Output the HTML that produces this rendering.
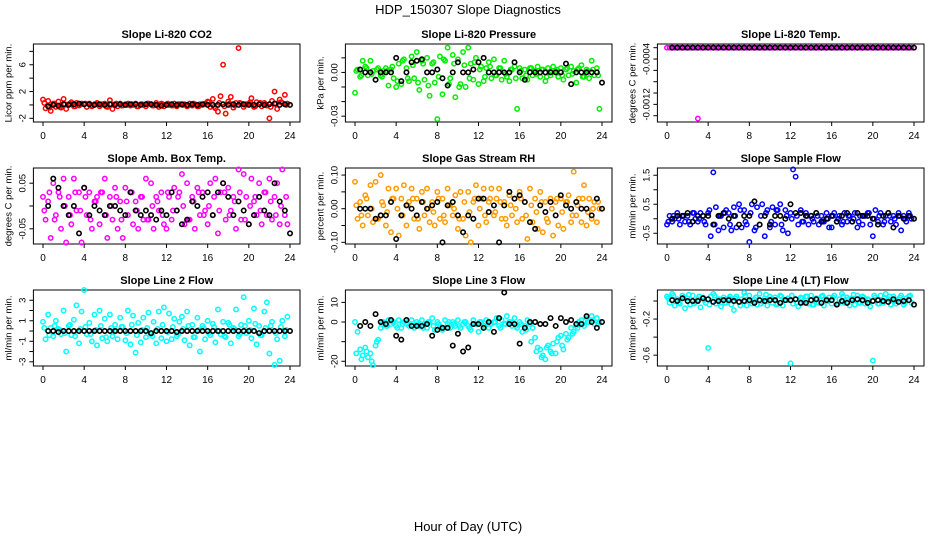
<!DOCTYPE html>
<html><head><meta charset="utf-8"><style>
html,body{margin:0;padding:0;background:#fff;}
svg{display:block;font-family:"Liberation Sans",sans-serif;}
</style></head>
<body>
<svg id="chart" width="936" height="540" viewBox="0 0 936 540">
<rect x="0" y="0" width="936" height="540" fill="#fff"/>
<text x="468" y="14" text-anchor="middle" font-size="13">HDP_150307  Slope Diagnostics</text>
<text x="468" y="531" text-anchor="middle" font-size="13">Hour of Day (UTC)</text>
</svg>
<script>
// ---- data ----
const p1Color=[0.8,-0.5,0.6,-0.9,0.2,-0.3,0.5,-0.4, 0.9,-0.6,0.1,0.4,-0.2,0.3,-0.1,0.2, 0.1,-0.3,0.2,-0.2,0.1,0.3,-0.2,0.1, 0.2,-0.3,0.7,-0.6,0.1,-0.2,0.2,-0.1, 0.1,0.2,-0.1,0.0,0.2,-0.2,0.1,0.0, -0.2,0.2,0.1,-0.1,0.3,-0.3,0.2,-0.2, 0.1,0.0,-0.1,0.2,-0.2,0.1,0.0,0.1, -0.2,0.2,-0.1,0.1,-0.2,0.1,0.0,0.2, 0.5,-0.3,0.9,-0.5,-1.0,1.3,6.0,-1.3, 0.5,1.2,-0.4,0.3,8.5,0.2,-0.3,0.1, 0.2,1.0,-0.3,0.4,0.1,-0.2,0.3,-0.1, -2.0,0.6,2.0,-0.6,0.8,0.3,1.5,0.2];
const p1Core=[0.3,-0.4,0.2,-0.3,0.1,0.2,-0.2,0.1,0.2,-0.1,0.1,0.0, -0.2,0.1,0.2,-0.1,0.0,0.1,-0.2,0.1,0.2,-0.1,0.0,0.1, 0.2,-0.1,0.1,0.0,-0.1,0.2,-0.2,0.1,0.4,-0.3,0.3,-0.2, 0.2,-0.1,0.3,0.0,0.4,-0.2,0.3,0.1,-0.3,0.2,0.4,0.0];
const p1Black=[-0.2,0.0,-0.1,0.1,0.0,0.1,0.2,0.1,0.1,0.0,0.1,0.0, 0.1,0.0,0.1,0.0,0.1,0.1,0.0,0.1,0.1,0.0,-0.1,0.0, 0.1,0.0,0.1,0.0,0.1,0.0,0.1,0.0,0.0,0.0,0.1,0.0, 0.1,0.0,0.1,0.0,0.0,0.1,0.0,0.1,0.2,0.0,0.1,0.0];
const p2Color=[-0.014,0.002,-0.003,0.008,0.004,-0.002,0.008,0.001, -0.005,0.003,-0.002,0.001,0.003,-0.009,0.002,-0.004, -0.010,0.006,-0.008,0.009,0.003,-0.006,0.011,-0.004, 0.014,-0.012,0.008,-0.005,0.010,-0.016,0.006,-0.007, -0.032,0.011,-0.015,0.008,0.017,-0.004,0.012,-0.017, 0.009,-0.008,0.014,-0.010,0.017,0.006,-0.005,0.010, -0.008,0.004,-0.006,0.003,0.007,-0.004,0.009,-0.002, 0.003,-0.005,0.008,-0.003,-0.006,0.002,0.004,-0.025, 0.003,-0.004,0.002,-0.005,0.003,-0.002,0.001,0.004, -0.003,0.002,-0.006,0.003,-0.002,0.004,0.001,-0.003, 0.003,-0.005,0.002,-0.002,0.004,0.001,-0.007,0.003, 0.005,-0.003,0.002,-0.004,0.008,-0.002,0.003,-0.025];
const p2Core=[0.001,-0.002,0.003,-0.001,0.002,-0.003,0.001,0.004,-0.006,0.008,-0.004,0.005, -0.007,0.006,-0.009,0.007,-0.003,0.009,-0.008,0.006,-0.010,0.005,-0.004,0.007, 0.002,-0.003,0.004,-0.002,0.003,-0.001,0.002,-0.004,0.001,-0.002,0.003,-0.001, 0.002,-0.003,0.001,0.002,-0.002,0.003,-0.001,0.002,-0.003,0.001,0.002,-0.002];
const p2Black=[0.002,0.000,0.000,-0.005,0.000,0.000,0.000,0.010,-0.006,0.000,0.007,0.008, 0.009,0.000,0.000,0.002,-0.004,-0.009,0.000,0.007,0.000,0.000,0.002,0.007, 0.010,0.000,0.000,0.000,0.000,0.000,0.007,0.000,-0.005,0.000,0.000,0.000, 0.000,0.000,0.000,0.000,0.006,-0.008,0.000,0.000,0.000,0.000,0.000,-0.007];
const p3Color=[-0.0002,-0.0002,-0.0002,-0.0002,-0.0002,-0.0002,-0.0002,-0.0002, -0.0002,-0.0002,-0.0002,-0.0002,-0.00145,-0.0002,-0.0002,-0.0002, -0.0002,-0.0002,-0.0002,-0.0002,-0.0002,-0.0002,-0.0002,-0.0002, -0.0002,-0.0002,-0.0002,-0.0002,-0.0002,-0.0002,-0.0002,-0.0002, -0.0002,-0.0002,-0.0002,-0.0002,-0.0002,-0.0002,-0.0002,-0.0002, -0.0002,-0.0002,-0.0002,-0.0002,-0.0002,-0.0002,-0.0002,-0.0002, -0.0002,-0.0002,-0.0002,-0.0002,-0.0002,-0.0002,-0.0002,-0.0002, -0.0002,-0.0002,-0.0002,-0.0002,-0.0002,-0.0002,-0.0002,-0.0002, -0.0002,-0.0002,-0.0002,-0.0002,-0.0002,-0.0002,-0.0002,-0.0002, -0.0002,-0.0002,-0.0002,-0.0002,-0.0002,-0.0002,-0.0002,-0.0002, -0.0002,-0.0002,-0.0002,-0.0002,-0.0002,-0.0002,-0.0002,-0.0002, -0.0002,-0.0002,-0.0002,-0.0002,-0.0002,-0.0002,-0.0002,-0.0002];
const p3Core=[];
const p3Black=[-0.0002,-0.0002,-0.0002,-0.0002,-0.0002,-0.0002,-0.0002,-0.0002,-0.0002,-0.0002,-0.0002,-0.0002, -0.0002,-0.0002,-0.0002,-0.0002,-0.0002,-0.0002,-0.0002,-0.0002,-0.0002,-0.0002,-0.0002,-0.0002, -0.0002,-0.0002,-0.0002,-0.0002,-0.0002,-0.0002,-0.0002,-0.0002,-0.0002,-0.0002,-0.0002,-0.0002, -0.0002,-0.0002,-0.0002,-0.0002,-0.0002,-0.0002,-0.0002,-0.0002,-0.0002,-0.0002,-0.0002,-0.0002];
const p4Color=[0.02,-0.03,0.01,-0.07,0.05,-0.02,0.03,-0.05, 0.06,-0.08,0.02,-0.04,0.06,-0.01,0.03,-0.08, 0.04,-0.02,0.03,-0.05,0.01,0.02,-0.04,0.03, 0.06,-0.07,0.02,-0.03,0.04,-0.05,0.01,-0.07, 0.04,-0.02,0.03,-0.04,0.01,-0.05,0.02,-0.03, 0.06,-0.03,0.05,-0.05,0.02,-0.01,0.03,-0.04, -0.05,0.02,-0.03,0.04,-0.01,0.03,0.07,-0.04, 0.05,-0.03,0.02,-0.05,0.04,-0.02,0.03,-0.01, -0.04,0.05,-0.02,0.06,-0.06,0.03,0.05,-0.03, 0.04,-0.01,0.02,-0.05,0.08,-0.03,0.07,0.02, -0.04,0.06,0.01,-0.02,0.05,-0.04,0.03,-0.02, 0.06,-0.03,0.02,0.05,-0.04,0.08,-0.02,-0.04];
const p4Core=[-0.01,0.03,-0.03,0.02,0.00,-0.02,0.03,-0.01,0.02,-0.03,0.01,0.03, -0.02,0.00,0.02,-0.03,0.01,0.03,-0.01,0.02,-0.03,0.00,0.01,-0.02, 0.03,-0.01,0.02,0.00,-0.03,0.01,0.03,-0.02,0.00,0.02,-0.01,0.03, -0.02,0.01,0.03,-0.03,0.00,0.02,-0.01,0.03,0.01,-0.02,0.00,0.02];
const p4Black=[0.00,0.06,0.04,0.00,-0.02,0.00,-0.06,0.04,-0.02,0.00,-0.01,-0.02, 0.00,0.00,-0.01,-0.02,0.03,-0.01,-0.02,-0.01,-0.02,-0.03,-0.01,-0.02, 0.03,-0.01,-0.04,-0.03,0.01,0.00,0.02,0.03,-0.02,0.03,0.05,0.02, -0.02,0.01,-0.01,-0.04,-0.02,0.02,-0.01,-0.02,0.05,0.01,-0.01,-0.06];
const p5Color=[0.08,-0.03,0.02,-0.05,0.04,-0.02,0.07,-0.04, 0.08,-0.03,0.10,0.01,-0.05,0.06,-0.07,0.03, 0.06,-0.08,0.03,0.07,-0.05,0.02,0.06,-0.03, 0.03,-0.06,0.05,-0.02,0.06,-0.04,0.02,-0.05, 0.05,-0.03,0.03,-0.04,0.06,0.01,-0.02,0.04, -0.06,0.05,-0.03,-0.08,0.05,-0.10,0.02,0.07, -0.05,0.03,0.06,-0.04,0.02,0.06,-0.02,0.03, 0.06,-0.03,0.02,-0.05,0.04,-0.02,0.03,-0.04, 0.05,-0.03,0.02,-0.09,0.06,-0.04,0.03,-0.06, 0.05,-0.07,0.02,-0.04,0.03,-0.08,0.02,-0.05, 0.03,-0.06,0.02,0.04,-0.04,0.11,-0.02,0.03, -0.04,0.07,-0.05,0.03,-0.03,0.02,-0.04,0.00];
const p5Core=[0.01,-0.02,0.03,0.00,-0.03,0.02,-0.01,0.03,0.00,-0.02,0.01,0.03, -0.03,0.02,0.00,-0.01,0.03,-0.02,0.01,0.00,-0.03,0.02,-0.01,0.03, 0.00,-0.02,0.03,-0.01,0.02,-0.03,0.01,0.00,0.03,-0.02,0.01,-0.01, 0.02,-0.03,0.00,0.03,-0.01,0.02,-0.02,0.01,0.03,-0.01,0.00,0.02];
const p5Black=[0.00,0.00,0.00,-0.03,-0.02,-0.02,0.02,-0.09,-0.02,0.01,0.00,-0.02, 0.02,0.00,0.01,0.02,-0.10,0.01,0.02,-0.02,-0.07,-0.02,-0.03,0.03, 0.03,-0.01,0.01,-0.10,0.01,0.05,0.03,0.04,0.02,-0.04,-0.06,0.01, -0.01,0.02,-0.02,0.04,0.01,0.00,0.02,0.00,0.00,-0.02,0.03,0.00];
const p6Color=[-0.2,0.1,-0.1,0.0,0.2,-0.2,0.1,-0.1, 0.1,-0.2,0.2,0.0,-0.1,0.2,0.1,-0.2, 0.2,-0.6,1.6,0.4,-0.4,0.1,-0.3,0.3, 0.2,-0.4,0.4,-0.3,0.5,-0.3,0.3,-0.2, -0.8,0.5,-0.4,0.4,-0.2,0.5,-0.6,0.3, -0.3,0.4,-0.2,0.3,0.5,-0.4,0.3,-0.5, 0.2,1.7,1.45,-0.2,0.3,-0.1,0.2,-0.2, 0.1,-0.1,0.2,-0.2,0.1,-0.1,0.2,-0.3, -0.3,0.2,-0.1,0.1,-0.2,0.2,-0.1,0.1, -0.1,0.2,-0.3,0.1,-0.2,0.1,0.2,-0.2, -0.6,0.3,-0.1,0.2,-0.2,0.1,0.2,-0.1, 0.1,-0.2,0.2,-0.4,0.1,-0.1,0.2,0.0];
const p6Core=[-0.1,0.1,0.0,0.1,-0.1,0.2,0.0,-0.1,0.3,-0.2,0.1,0.2, -0.2,0.1,0.3,-0.1,0.2,-0.3,0.1,0.2,-0.1,0.3,-0.2,0.1, 0.0,0.1,-0.1,0.1,0.0,0.1,-0.1,0.0,0.1,0.0,-0.1,0.1, 0.0,-0.1,0.1,0.2,0.0,0.1,-0.1,0.1,0.0,0.1,0.0,0.1];
const p6Black=[0.0,0.1,0.1,0.2,-0.1,0.1,0.1,0.1,-0.2,0.1,0.2,0.0, 0.1,-0.2,0.1,0.1,0.6,-0.2,0.1,-0.2,0.1,0.1,0.0,0.5, 0.2,0.2,0.1,0.1,0.2,-0.1,0.0,0.1,-0.1,0.1,0.2,-0.1, 0.2,0.1,0.1,0.0,-0.2,0.1,0.2,-0.3,0.1,0.0,0.1,0.0];
const p7Color=[0.9,-0.8,1.6,0.3,-0.5,1.0,0.2,-0.3, 2.0,-2.0,0.5,-0.4,1.1,2.5,-1.2,1.9, 4.0,-0.3,0.8,-1.0,1.6,-1.4,2.0,-0.7, 1.2,-1.0,1.6,-0.5,0.6,-0.8,1.3,0.4, -0.9,2.0,-1.3,1.5,-2.1,0.8,-1.1,1.3, -0.6,1.8,-0.3,0.9,-1.2,1.9,-0.7,2.3, -1.0,1.7,-0.8,1.2,-0.5,0.9,1.4,-0.9, 1.9,-1.4,0.6,-0.6,1.3,-2.0,0.5,-0.8, 1.0,-0.4,0.7,-1.1,2.1,-0.3,0.9,-0.6, 0.8,-1.2,0.3,2.1,-0.5,0.6,3.3,-0.2, 1.0,-0.7,2.2,-1.3,0.5,-0.4,1.9,2.8, -2.2,0.9,-3.3,-0.8,-2.9,1.0,-0.5,1.4];
const p7Core=[0.3,-0.4,0.5,0.1,-0.2,0.6,-0.5,0.2,0.4,-0.3,0.1,0.5, -0.6,0.3,0.0,0.4,-0.2,0.6,-0.4,0.1,0.3,-0.5,0.2,0.6, -0.1,0.4,-0.3,0.2,0.5,-0.6,0.1,0.3,-0.2,0.4,0.0,-0.5, 0.6,0.2,-0.3,0.5,0.1,0.7,-0.4,0.3,0.5,-0.2,0.4,0.1];
const p7Black=[0.0,0.0,-0.1,0.0,0.0,0.0,0.0,0.0,0.0,0.0,0.0,0.0, 0.0,0.0,0.0,0.0,0.0,0.0,0.0,0.0,-0.2,0.0,0.0,0.0, 0.0,-0.1,0.0,0.0,0.0,0.0,0.0,0.0,0.0,0.0,0.0,0.0, 0.0,0.0,0.0,0.0,0.0,-0.2,0.0,0.0,0.0,0.0,0.0,0.0];
const p8Color=[0,-5,-14,-17,-13,-18,-16,-22, -12,-9,-3,0,-2,1,-1,0, -2,1,-3,0,-1,-2,1,-3, 0,-2,1,-1,-3,0,2,-4, 0,-2,-4,1,-1,-3,0,-2, 1,-3,-1,0,-2,-4,1,-1, -5,0,-2,1,-3,-1,0,2, -2,1,-1,3,0,-2,2,-3, 0,-5,-2,1,-1,-3,-8,-13, -14,-17,-19,-12,-15,-11,-16,-8, -7,-14,-6,-8,-3,-5,-2,0, 1,-2,2,0,3,-1,2,0];
const p8Core=[-16,-19,-15,-20,-10,-1,-2,0,-3,-1,0,-2, -1,-3,0,-2,-1,-3,0,-1,-2,0,-3,-1, 0,-2,-1,0,-3,-1,0,-2,-1,-4,-10,-15, -18,-13,-16,-10,-12,-9,-6,-3,-1,0,1,-1];
const p8Black=[-2,0,-2,4,0,-1,1,-7,-9,1,-2,-2, -2,-1,-7,-4,-3,-3,-12,-6,-15,-13,-1,-1, -3,0,-5,2,15,-1,-1,-11,-3,0,0,-1, -1,2,-2,2,0,1,-1,-1,3,0,-3,0];
const p9Color=[0.05,-0.02,0.08,-0.05,0.02,-0.03,0.06,-0.08, 0.03,-0.04,0.06,-0.01,0.02,-0.07,0.04,-0.02, -0.52,0.05,0.08,-0.03,0.02,-0.06,0.04,-0.02, 0.03,-0.04,-0.10,0.05,-0.01,0.02,0.09,-0.05, 0.06,-0.03,0.02,-0.04,0.08,-0.01,0.03,-0.05, 0.05,-0.02,0.04,-0.03,0.06,-0.05,0.01,0.03, -0.69,-0.03,0.02,-0.06,0.04,-0.02,0.05,-0.03, 0.06,-0.04,0.03,-0.02,0.05,-0.05,0.02,0.04, -0.03,0.06,-0.04,0.02,0.08,-0.02,0.04,-0.05, 0.03,-0.04,0.06,-0.02,0.05,-0.03,0.02,-0.06, -0.66,0.04,-0.03,0.06,-0.02,0.08,0.02,-0.04, 0.05,-0.03,0.02,0.06,-0.04,0.03,0.05,-0.02];
const p9Core=[0.03,0.06,-0.02,0.04,0.07,-0.03,0.05,0.01,-0.04,0.06,0.02,-0.02, 0.05,0.03,-0.05,0.06,0.00,0.04,-0.03,0.07,0.02,-0.04,0.05,0.01, 0.06,-0.02,0.03,0.05,-0.04,0.02,0.06,0.00,0.04,-0.03,0.05,0.02, 0.07,-0.02,0.04,0.01,0.06,-0.03,0.03,0.05,0.00,0.04,-0.02,0.06];
const p9Black=[0.01,0.00,0.03,0.00,0.00,0.00,0.03,0.02,-0.01,0.00,0.01,0.01, 0.00,-0.01,0.00,0.01,-0.02,0.01,0.00,0.01,0.01,-0.02,0.01,0.01, 0.02,-0.02,-0.02,0.01,0.02,-0.02,0.01,0.01,-0.04,0.00,-0.02,0.01, 0.02,0.01,-0.02,0.00,0.01,0.00,-0.01,0.02,-0.01,0.00,0.01,-0.04];
const xTicks=[0,4,8,12,16,20,24];
const colorHours=[];for(let i=0;i<96;i++)colorHours.push(i*0.25);
const coreHours=[];for(let i=0;i<48;i++)coreHours.push(0.125+i*0.5);
const blackHours=[];for(let i=0;i<48;i++)blackHours.push(0.5+i*0.5);

const panels=[
 {name:'co2',title:'Slope Li-820 CO2',ylab:'Licor ppm per min.',col:0,row:0,ymin:-2.55,ymax:9.1,ticks:[-2,0,2,4,6,8],labels:{'-2':'-2','2':'2','6':'6'},color:'#ff0000',c:p1Color,k:p1Core,b:p1Black},
 {name:'pressure',title:'Slope Li-820 Pressure',ylab:'kPa per min.',col:1,row:0,ymin:-0.034,ymax:0.0195,ticks:[-0.03,-0.02,-0.01,0,0.01],labels:{'-0.03':'-0.03','0':'0.00'},color:'#00ee00',c:p2Color,k:p2Core,b:p2Black},
 {name:'li820-temp',title:'Slope Li-820 Temp.',ylab:'degrees C per min.',col:2,row:0,ymin:-0.001511,ymax:-0.000135,ticks:[-0.0002,-0.0004,-0.0006,-0.0008,-0.001,-0.0012,-0.0014],labels:{'-0.0004':'-0.0004','-0.0012':'-0.0012'},color:'#ff00ff',c:p3Color,k:p3Core,b:p3Black},
 {name:'amb-box-temp',title:'Slope Amb. Box Temp.',ylab:'degrees C per min.',col:0,row:1,ymin:-0.0833,ymax:0.0833,ticks:[-0.05,0,0.05],labels:{'-0.05':'-0.05','0.05':'0.05'},color:'#ff00ff',c:p4Color,k:p4Core,b:p4Black},
 {name:'gas-stream-rh',title:'Slope Gas Stream RH',ylab:'percent per min.',col:1,row:1,ymin:-0.105,ymax:0.121,ticks:[-0.1,-0.05,0,0.05,0.1],labels:{'-0.1':'-0.10','0':'0.00','0.1':'0.10'},color:'#ff9a00',c:p5Color,k:p5Core,b:p5Black},
 {name:'sample-flow',title:'Slope Sample Flow',ylab:'ml/min per min.',col:2,row:1,ymin:-0.87,ymax:1.75,ticks:[-0.5,0,0.5,1,1.5],labels:{'-0.5':'-0.5','0.5':'0.5','1.5':'1.5'},color:'#0000ff',c:p6Color,k:p6Core,b:p6Black},
 {name:'line2-flow',title:'Slope Line 2 Flow',ylab:'ml/min per min.',col:0,row:2,ymin:-3.41,ymax:4.0,ticks:[-3,-2,-1,0,1,2,3],labels:{'-3':'-3','-1':'-1','1':'1','3':'3'},color:'#00ffff',c:p7Color,k:p7Core,b:p7Black},
 {name:'line3-flow',title:'Slope Line 3 Flow',ylab:'ml/min per min.',col:1,row:2,ymin:-22.4,ymax:16.3,ticks:[-20,-10,0,10],labels:{'-20':'-20','0':'0','10':'10'},color:'#00ffff',c:p8Color,k:p8Core,b:p8Black},
 {name:'line4-flow',title:'Slope Line 4 (LT) Flow',ylab:'ml/min per min.',col:2,row:2,ymin:-0.72,ymax:0.122,ticks:[-0.6,-0.4,-0.2,0],labels:{'-0.6':'-0.6','-0.2':'-0.2'},color:'#00ffff',c:p9Color,k:p9Core,b:p9Black}
];
const colX0=[43,355,667], rowTop=[44,168,290], rowBot=[122,244,366];
const NS='http://www.w3.org/2000/svg';
const svg=document.getElementById('chart');
function mk(tag,attrs,parent){const e=document.createElementNS(NS,tag);for(const k in attrs)e.setAttribute(k,attrs[k]);parent.appendChild(e);return e;}

panels.forEach(p=>{
 const x0=colX0[p.col], top=rowTop[p.row], bot=rowBot[p.row];
 const ppH=247/24;
 const xs=h=>x0+h*ppH;
 const ys=v=>top+(p.ymax-v)/(p.ymax-p.ymin)*(bot-top);
 const left=x0-9.6, right=x0+257;
 const g=mk('g',{},svg);
 
 
 const t=mk('text',{x:(left+right)/2,y:top-6,'text-anchor':'middle','font-size':'11','font-weight':'bold'},g);
 t.textContent=p.title;
 
 
 const yl=mk('text',{x:0,y:0,'text-anchor':'middle','font-size':'9.5',transform:`translate(${left-22},${(top+bot)/2}) rotate(-90)`},g);
 yl.textContent=p.ylab;
 
 
 const box=mk('rect',{x:left,y:top,width:right-left,height:bot-top,fill:'none',stroke:'#000','stroke-width':1},g);
 
 
 xTicks.forEach(h=>{
  const tk=mk('line',{x1:xs(h),x2:xs(h),y1:bot,y2:bot+4,stroke:'#000'},g);
  
  
  const lb=mk('text',{x:xs(h),y:bot+17,'text-anchor':'middle','font-size':'10'},g);
  lb.textContent=h;
  
  
 });
 p.ticks.forEach(v=>{
  const tk=mk('line',{x1:left-4,x2:left,y1:ys(v),y2:ys(v),stroke:'#000'},g);
  
  
  const key=String(v);
  if(p.labels[key]!==undefined){
   const lb=mk('text',{x:0,y:0,'text-anchor':'middle','font-size':'9.5',transform:`translate(${left-8},${ys(v)}) rotate(-90)`},g);
   lb.textContent=p.labels[key];
   
   
  }
 });
 p.c.forEach((v,i)=>{
  const c=mk('circle',{cx:xs(colorHours[i]),cy:ys(v),r:2.2,fill:'none',stroke:p.color,'stroke-width':1.5},g);
  
  
 });
 p.k.forEach((v,i)=>{
  const c=mk('circle',{cx:xs(coreHours[i]),cy:ys(v),r:2.2,fill:'none',stroke:p.color,'stroke-width':1.5},g);
  
  
 });
 p.b.forEach((v,i)=>{
  const c=mk('circle',{cx:xs(blackHours[i]),cy:ys(v),r:2.2,fill:'none',stroke:'#000','stroke-width':1.6},g);
  
  
 });
});
</script>
</body></html>
